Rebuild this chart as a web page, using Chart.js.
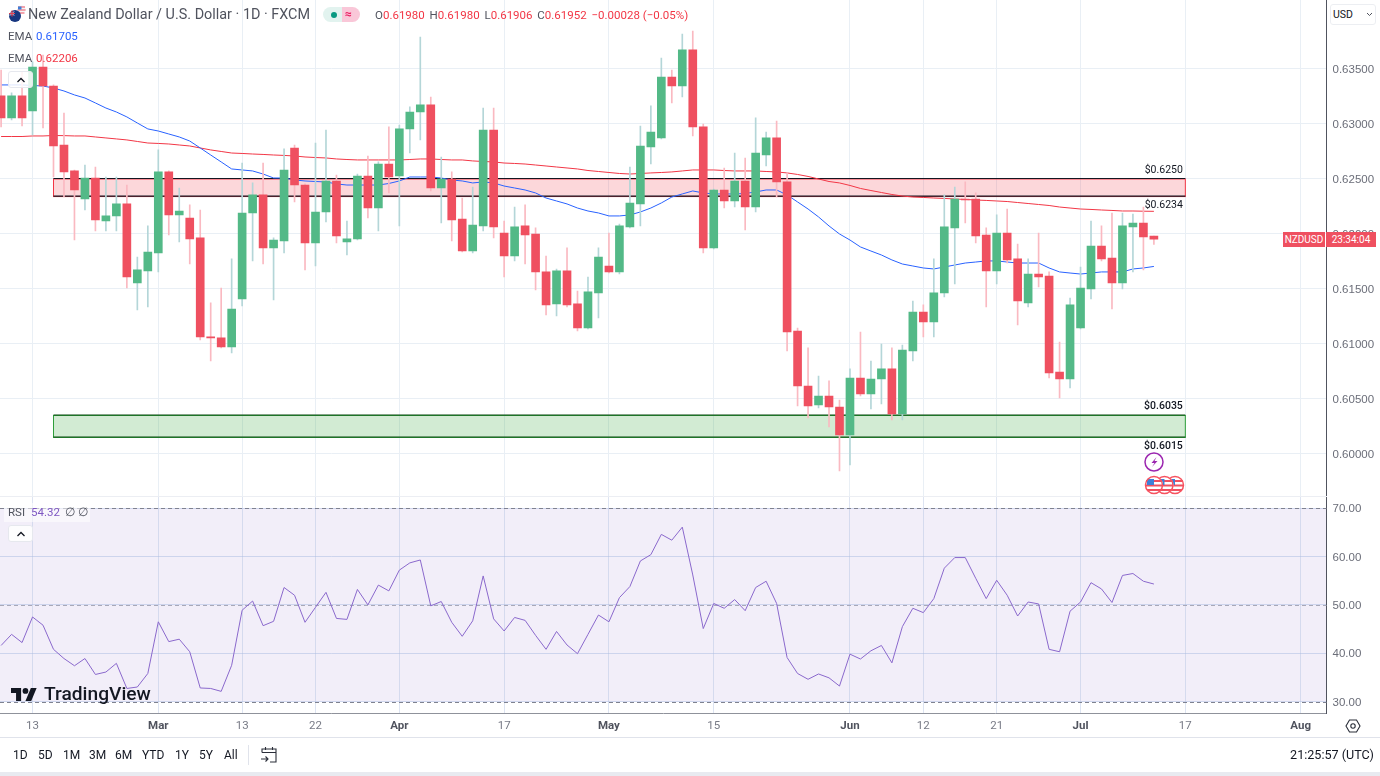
<!DOCTYPE html>
<html>
<head>
<meta charset="utf-8">
<title>NZDUSD</title>
<script src="https://cdn.jsdelivr.net/npm/chart.js@4/dist/chart.umd.min.js"></script>
<style>
  html, body { margin: 0; padding: 0; background: #fff; }
  body { position: relative; width: 1380px; height: 776px; overflow: hidden;
         font-family: Roboto, "Liberation Sans", sans-serif; color: #50535e; }
  canvas { position: absolute; left: 0; display: block; }
  #priceChart { top: 0; }
  #rsiChart { top: 497px; }
  .t { position: absolute; white-space: nowrap; line-height: 16px; }
  .line { position: absolute; }
  .btn { position: absolute; left: 8px; width: 25px; height: 17px; background: rgba(255,255,255,.85); border: 1px solid #e6e8ee;
         border-radius: 3px; box-sizing: border-box; }
  .btn svg { position: absolute; left: 7px; top: 4px; }
  .range { position: absolute; top: 747px; font-size: 12px; line-height: 16px; color: #131722; }
  svg.abs { position: absolute; overflow: visible; }
</style>
</head>
<body>
<canvas id="priceChart" width="1380" height="497"></canvas>
<canvas id="rsiChart" width="1380" height="240"></canvas>

<!-- header -->
<svg class="abs" style="left:8px;top:5px" width="18" height="18" viewBox="0 0 18 18">
  <circle cx="13.5" cy="4.5" r="4" fill="#f3f4f6"/><path d="M10 2h7M9.6 5h8M10.5 8h6" stroke="#ef5060" stroke-width="1.2"/>
  <path d="M10 1.5h3.5v3h-3.5z" fill="#3d80d8"/>
  <circle cx="7" cy="11" r="6" fill="#17367f"/><path d="M2 6.5l4 4M6 6.5l-4 4" stroke="#fff" stroke-width="1"/>
  <path d="M1 8.5h6M4 5.5v6" stroke="#e04050" stroke-width="1.2"/>
</svg>
<div class="t" style="left:28px;top:7px;font-size:14.4px;color:#50535e">New Zealand Dollar / U.S. Dollar · 1D · FXCM</div>
<div style="position:absolute;left:323px;top:7px;width:19px;height:15px;background:#e2f3ef;border-radius:8px 0 0 8px"></div>
<div style="position:absolute;left:342px;top:7px;width:18px;height:15px;background:#f9c7d8;border-radius:0 8px 8px 0"></div>
<div style="position:absolute;left:331px;top:12px;width:6px;height:6px;background:#089981;border-radius:50%"></div>
<div class="t" style="left:345px;top:6px;font-size:12px;font-weight:700;color:#e91e63">≈</div>
<div class="t" style="left:375px;top:7px;font-size:11.5px;color:#f23645"><span style="color:#50535e">O</span>0.61980 <span style="color:#50535e;margin-left:2px">H</span>0.61980 <span style="color:#50535e;margin-left:2px">L</span>0.61906 <span style="color:#50535e;margin-left:2px">C</span>0.61952 <span style="margin-left:2px">−0.00028 (−0.05%)</span></div>
<div class="t" style="left:8px;top:28px;font-size:11.5px">EMA</div>
<div class="t" style="left:36px;top:28px;font-size:11.5px;color:#2962ff">0.61705</div>
<div class="t" style="left:8px;top:50px;font-size:11.5px">EMA</div>
<div class="t" style="left:36px;top:50px;font-size:11.5px;color:#f23645">0.62206</div>
<div class="btn" style="top:71px"><svg width="10" height="8" viewBox="0 0 10 8"><path d="M1.5 6l3.5-3.5L8.5 6" fill="none" stroke="#131722" stroke-width="1.3"/></svg></div>

<!-- right side scale controls and price label -->
<div style="position:absolute;left:1330px;top:4px;width:46px;height:21px;border:1px solid #eceef2;border-radius:3px;box-sizing:border-box;background:#fff"></div>
<div class="t" style="left:1333px;top:7px;font-size:10.5px;color:#131722">USD</div>
<svg class="abs" style="left:1366px;top:12px" width="7" height="5" viewBox="0 0 7 5"><path d="M1 1l2.5 2.5L6 1" fill="none" stroke="#50535e" stroke-width="1"/></svg>
<div style="position:absolute;left:1283px;top:232px;width:42px;height:15px;background:#ef5060;color:#fff;font-size:10px;line-height:15px;text-align:center">NZDUSD</div>
<div style="position:absolute;left:1326px;top:232px;width:50px;height:15px;background:#ef5060;color:#fff;font-size:10px;line-height:15px;text-align:center">23:34:04</div>

<!-- events -->
<svg class="abs" style="left:1142px;top:450px" width="46" height="46" viewBox="0 0 46 46">
  <circle cx="12" cy="12" r="9" fill="#fff" stroke="#9c27b0" stroke-width="1.5"/>
  <path d="M14.5 7l-5 6h3l-2.5 4 5.500-6h-3z" fill="#9c27b0"/>
  <g transform="translate(33,35)"><circle r="9" fill="#fff"/><path d="M-8-4h16M-8.600 0.500h17.200M-7 5h14" stroke="#ef5060" stroke-width="2"/><path d="M-7-6h7v6h-7z" fill="#3d80d8"/><circle r="8.500" fill="none" stroke="#f7525f" stroke-width="1.500"/></g>
  <g transform="translate(22.500,35)"><circle r="9" fill="#fff"/><path d="M-8-4h16M-8.600 0.500h17.200M-7 5h14" stroke="#ef5060" stroke-width="2"/><path d="M-7-6h7v6h-7z" fill="#3d80d8"/><circle r="8.500" fill="none" stroke="#f7525f" stroke-width="1.500"/></g>
  <g transform="translate(12,35)"><circle r="9" fill="#fff"/><path d="M-8-4h16M-8.600 0.500h17.200M-7 5h14" stroke="#ef5060" stroke-width="2"/><path d="M-7-6h7v6h-7z" fill="#3d80d8"/><circle r="8.500" fill="none" stroke="#f7525f" stroke-width="1.500"/></g>
</svg>

<!-- rsi legend -->
<div style="position:absolute;left:4px;top:503px;width:86px;height:19px;background:rgba(255,255,255,.55)"></div>
<div class="t" style="left:8px;top:504px;font-size:11.5px">RSI</div>
<div class="t" style="left:31px;top:504px;font-size:11.5px;color:#7e57c2">54.32</div>
<div class="t" style="left:65px;top:504px;font-size:11.5px">∅</div>
<div class="t" style="left:78px;top:504px;font-size:11.5px">∅</div>
<div class="btn" style="top:525px"><svg width="10" height="8" viewBox="0 0 10 8"><path d="M1.5 6l3.5-3.5L8.5 6" fill="none" stroke="#131722" stroke-width="1.3"/></svg></div>

<!-- logo -->
<svg class="abs" style="left:11px;top:686px" width="26" height="17" viewBox="0 3 36 20">
  <path d="M14 22H7V11H0V4h14v18zM28 22h-8l7.5-18h8L28 22z" fill="#131722"/><circle cx="20" cy="8" r="4" fill="#131722"/>
</svg>
<div class="t" style="left:44px;top:684px;font-size:19.2px;font-weight:500;line-height:20px;color:#131722">TradingView</div>

<!-- lines and bottom bar -->
<div class="line" style="left:0;top:496px;width:1327px;height:1px;background:#eceef3"></div>
<div class="line" style="left:0;top:737px;width:1380px;height:1px;background:#e0e3eb"></div>
<div class="line" style="left:0;top:772px;width:1380px;height:4px;background:#e8eaf0"></div>
<div class="line" style="left:248px;top:745px;width:1px;height:20px;background:#e0e3eb"></div>
<svg class="abs" style="left:1345px;top:718px" width="16" height="16" viewBox="0 0 16 16">
  <path d="M4.5 2h7L15 8l-3.5 6h-7L1 8z" fill="none" stroke="#2a2e39" stroke-width="1.1"/><circle cx="8" cy="8" r="2.2" fill="none" stroke="#2a2e39" stroke-width="1.1"/>
</svg>
<svg class="abs" style="left:260px;top:746px" width="18" height="18" viewBox="0 0 18 18">
  <path d="M2 6.5V3h14v13h-6M2 6.5h14M5.5 1v3M12.500 1v3M1 13h7M5.500 10.500L8 13l-2.500 2.500" fill="none" stroke="#2a2e39" stroke-width="1.1"/>
</svg>
<div class="range" style="left:13px">1D</div>
<div class="range" style="left:38px">5D</div>
<div class="range" style="left:63px">1M</div>
<div class="range" style="left:89px">3M</div>
<div class="range" style="left:115px">6M</div>
<div class="range" style="left:142px">YTD</div>
<div class="range" style="left:175px">1Y</div>
<div class="range" style="left:199px">5Y</div>
<div class="range" style="left:224px">All</div>
<div class="t" style="right:6px;top:747px;font-size:12.6px;color:#131722">21:25:57 (UTC)</div>

<script>
// Candles. One entry per session, oldest first.
const opens = [
  0.63255,0.63055,0.63255,0.63118,0.63518,0.63345,0.62809,0.62573,0.62318,0.62509,
  0.62118,0.62164,0.62273,0.61555,0.61664,0.61827,0.62564,0.62173,0.62145,0.61964,
  0.61064,0.61055,0.60973,0.61409,0.62191,0.62355,0.61873,0.61936,0.62782,0.62445,
  0.61918,0.62200,0.62482,0.61927,0.61955,0.62527,0.62236,0.62636,0.62527,0.62955,
  0.63109,0.63173,0.62418,0.62500,0.62136,0.61845,0.62073,0.62945,0.62009,0.61800,
  0.62073,0.62000,0.61655,0.61364,0.61664,0.61364,0.61145,0.61464,0.61709,0.61655,
  0.62064,0.62273,0.62791,0.62873,0.63427,0.63345,0.63673,0.62973,0.61873,0.62400,
  0.62300,0.62482,0.62245,0.62718,0.62873,0.62473,0.61118,0.60618,0.60445,0.60527,
  0.60427,0.60173,0.60691,0.60545,0.60682,0.60773,0.60364,0.60936,0.61291,0.61200,
  0.61464,0.62055,0.62318,0.62318,0.61991,0.61664,0.62009,0.61773,0.61373,0.61636,
  0.61618,0.60745,0.60682,0.61145,0.61500,0.61891,0.61782,0.61555,0.62064,0.62100,
  0.61980
];
const highs = [
  0.63491,0.63282,0.63473,0.63564,0.63627,0.63355,0.63100,0.62582,0.62627,0.62609,
  0.62518,0.62518,0.62445,0.61791,0.62073,0.62764,0.62573,0.62418,0.62264,0.62218,
  0.61373,0.61509,0.61773,0.62645,0.62464,0.62645,0.61964,0.62773,0.62809,0.62455,
  0.62827,0.62945,0.62536,0.62118,0.62545,0.62709,0.62655,0.62973,0.62991,0.63155,
  0.63791,0.63245,0.62700,0.62564,0.62327,0.62427,0.63145,0.63145,0.62118,0.62245,
  0.62264,0.62055,0.61800,0.61682,0.61873,0.61482,0.61609,0.61873,0.62009,0.62091,
  0.62609,0.62982,0.63164,0.63600,0.63491,0.63818,0.63845,0.63000,0.62409,0.62600,
  0.62736,0.62691,0.63055,0.62927,0.63027,0.62555,0.61145,0.60964,0.60709,0.60664,
  0.60491,0.60773,0.61109,0.60845,0.61000,0.60964,0.60991,0.61391,0.61355,0.61773,
  0.62355,0.62427,0.62473,0.62373,0.62055,0.62173,0.62227,0.61909,0.61773,0.62009,
  0.61655,0.61018,0.61418,0.61700,0.62118,0.62073,0.62191,0.62191,0.62182,0.62245,
  0.61980
];
const lows = [
  0.62973,0.63036,0.62982,0.62900,0.62964,0.62518,0.62336,0.61945,0.62218,0.62027,
  0.62027,0.62027,0.61509,0.61309,0.61336,0.61655,0.61991,0.61927,0.61727,0.61036,
  0.60845,0.60964,0.60918,0.61345,0.61755,0.61727,0.61400,0.61827,0.62291,0.61673,
  0.61709,0.62109,0.61918,0.61809,0.61945,0.62145,0.62027,0.62373,0.62073,0.62736,
  0.62855,0.62391,0.62100,0.61936,0.61836,0.61827,0.62027,0.61964,0.61609,0.61755,
  0.61727,0.61491,0.61264,0.61255,0.61336,0.61118,0.61136,0.61236,0.61645,0.61636,
  0.62055,0.62073,0.62636,0.62864,0.63191,0.63245,0.62891,0.61827,0.61864,0.62236,
  0.62245,0.62036,0.62200,0.62618,0.62336,0.60936,0.60436,0.60327,0.60418,0.60245,
  0.59845,0.59900,0.60527,0.60409,0.60455,0.60309,0.60309,0.60845,0.61064,0.61064,
  0.61427,0.61545,0.62100,0.61918,0.61336,0.61545,0.61736,0.61173,0.61336,0.61518,
  0.60691,0.60509,0.60600,0.61136,0.61409,0.61755,0.61318,0.61500,0.61655,0.61673,
  0.61906
];
const closes = [
  0.63055,0.63255,0.63055,0.63518,0.63345,0.62800,0.62564,0.62400,0.62509,0.62127,
  0.62164,0.62273,0.61609,0.61673,0.61836,0.62564,0.62173,0.62209,0.61955,0.61064,
  0.61055,0.60973,0.61318,0.62191,0.62355,0.61873,0.61945,0.62582,0.62445,0.61918,
  0.62200,0.62482,0.61982,0.61955,0.62527,0.62236,0.62636,0.62518,0.62955,0.63109,
  0.63173,0.62418,0.62500,0.62127,0.61845,0.62082,0.62945,0.62064,0.61800,0.62064,
  0.61991,0.61655,0.61355,0.61664,0.61355,0.61145,0.61473,0.61791,0.61655,0.62073,
  0.62282,0.62800,0.62927,0.63427,0.63345,0.63673,0.62973,0.61873,0.62400,0.62300,
  0.62482,0.62245,0.62736,0.62873,0.62473,0.61109,0.60618,0.60436,0.60527,0.60427,
  0.60173,0.60691,0.60545,0.60682,0.60773,0.60364,0.60945,0.61291,0.61200,0.61464,
  0.62064,0.62318,0.62309,0.61982,0.61664,0.62009,0.61764,0.61391,0.61636,0.61609,
  0.60736,0.60682,0.61355,0.61509,0.61891,0.61773,0.61555,0.62073,0.62100,0.61973,
  0.61952
];
// Blue EMA
const emaFast = [
  0.63355,0.63355,0.63355,0.63350,0.63345,0.63327,0.63300,0.63264,0.63236,0.63191,
  0.63145,0.63109,0.63064,0.63009,0.62955,0.62936,0.62909,0.62882,0.62845,0.62782,
  0.62718,0.62655,0.62591,0.62582,0.62573,0.62545,0.62509,0.62509,0.62491,0.62482,
  0.62477,0.62473,0.62455,0.62445,0.62445,0.62445,0.62445,0.62459,0.62482,0.62518,
  0.62518,0.62518,0.62509,0.62491,0.62482,0.62464,0.62473,0.62464,0.62436,0.62418,
  0.62400,0.62373,0.62327,0.62300,0.62273,0.62236,0.62209,0.62191,0.62164,0.62164,
  0.62173,0.62200,0.62236,0.62282,0.62336,0.62364,0.62391,0.62373,0.62364,0.62364,
  0.62364,0.62368,0.62382,0.62400,0.62400,0.62355,0.62291,0.62227,0.62155,0.62073,
  0.62000,0.61945,0.61882,0.61845,0.61809,0.61764,0.61727,0.61709,0.61691,0.61682,
  0.61700,0.61718,0.61736,0.61745,0.61755,0.61755,0.61745,0.61736,0.61736,0.61736,
  0.61691,0.61655,0.61645,0.61636,0.61645,0.61655,0.61655,0.61655,0.61682,0.61691,
  0.61705
];
// Red EMA
const emaSlow = [
  0.62886,0.62886,0.62886,0.62891,0.62891,0.62895,0.62894,0.62891,0.62891,0.62882,
  0.62873,0.62864,0.62855,0.62841,0.62827,0.62823,0.62818,0.62809,0.62800,0.62782,
  0.62764,0.62750,0.62736,0.62732,0.62727,0.62723,0.62718,0.62714,0.62709,0.62700,
  0.62695,0.62691,0.62682,0.62677,0.62673,0.62673,0.62673,0.62673,0.62673,0.62677,
  0.62682,0.62682,0.62677,0.62673,0.62673,0.62664,0.62659,0.62655,0.62645,0.62641,
  0.62636,0.62627,0.62618,0.62609,0.62600,0.62591,0.62577,0.62568,0.62559,0.62550,
  0.62545,0.62550,0.62555,0.62559,0.62564,0.62573,0.62582,0.62582,0.62582,0.62577,
  0.62573,0.62573,0.62573,0.62568,0.62564,0.62555,0.62541,0.62523,0.62500,0.62477,
  0.62464,0.62441,0.62414,0.62395,0.62377,0.62359,0.62345,0.62336,0.62332,0.62327,
  0.62323,0.62318,0.62314,0.62309,0.62305,0.62300,0.62295,0.62286,0.62277,0.62268,
  0.62259,0.62245,0.62236,0.62227,0.62223,0.62218,0.62214,0.62209,0.62209,0.62207,
  0.62206
];
// RSI
const rsiValues = [
  41.6,43.9,42.2,47.5,45.8,40.8,38.9,37.4,38.9,35.6,
  36.1,37.9,32.7,33.0,35.8,46.5,42.4,42.9,40.3,32.8,
  32.7,32.1,37.5,48.9,50.8,45.7,46.6,53.6,52.0,46.4,
  49.5,52.6,47.2,47.0,53.2,50.0,54.1,52.9,57.2,58.7,
  59.3,49.8,50.7,46.4,43.5,46.7,56.0,47.1,44.6,47.4,
  46.8,43.7,40.8,44.5,41.7,39.9,43.9,47.9,46.5,51.5,
  53.8,59.1,60.4,64.6,63.4,66.1,56.2,45.1,50.3,49.3,
  51.1,48.8,53.6,54.9,50.3,39.1,35.8,34.6,35.7,34.9,
  33.2,39.8,38.8,40.5,41.6,38.0,45.5,49.3,48.4,51.3,
  57.6,59.8,59.8,55.5,51.3,55.1,52.0,47.7,50.6,50.2,
  40.8,40.3,48.7,50.6,54.6,53.3,50.5,56.1,56.5,54.9,
  54.32
];

const priceTicks = [0.635, 0.63, 0.625, 0.62, 0.615, 0.61, 0.605, 0.6];
const rsiTicks = [70, 60, 50, 40, 30];
const rsiDashed = [70, 50, 30];
const tickIndex = [3, 15, 23, 30, 38, 48, 58, 68, 81, 88, 95, 103, 113, 124];
const tickLabels = ["13", "Mar", "13", "22", "Apr", "17", "May", "15", "Jun", "12", "21", "Jul", "17", "Aug"];
const monthLabels = ["Mar", "Apr", "May", "Jun", "Jul", "Aug"];

// Support and resistance boxes
const zoneTops = [0.625, 0.6035];
const zoneBottoms = [0.6234, 0.6015];
const zoneFrom = 5;
const zoneTo = 113;

const RED = "#ef5060", GREEN = "#53b987";
const RED_WICK = "#fab9c1", GREEN_WICK = "#b4d6d8";
const GRID = "#e9eff5";
const AXIS_FONT = '"Liberation Sans Narrow", "Liberation Sans", sans-serif';

const isUp = closes.map((c, i) => c >= opens[i]);
const bodies = opens.map((o, i) => ({ x: i, y: [o, closes[i]] }));
const wicks = lows.map((l, i) => ({ x: i, y: [l, highs[i]] }));
const asPoints = arr => arr.map((v, i) => ({ x: i, y: v }));

// month ticks get the heavier label
const isMonthTick = ctx => !!ctx.tick && monthLabels.includes(tickLabels[tickIndex.indexOf(ctx.tick.value)]);

// both panes share this x scale
function xScale(showLabels) {
  return {
    type: "linear",
    offset: false,
    min: -0.105,
    max: 126.47,
    afterBuildTicks: axis => { axis.ticks = tickIndex.map(v => ({ value: v })); },
    afterFit: axis => {
      axis.height = showLabels ? 24 : 0;
      axis.paddingLeft = 0;
      axis.paddingRight = 0;
    },
    grid: { offset: false, color: showLabels ? "rgba(175,190,225,0.42)" : GRID, drawTicks: false },
    border: { display: showLabels, color: "#8f929b" },
    ticks: {
      display: showLabels,
      autoSkip: false,
      maxRotation: 0,
      padding: 6,
      callback: value => tickLabels[tickIndex.indexOf(value)],
      color: ctx => isMonthTick(ctx) ? "#50535e" : "#787b86",
      font: ctx => ({ family: "Roboto, sans-serif", size: 11.5, weight: isMonthTick(ctx) ? "700" : "400" })
    }
  };
}

function yScale(min, max, ticks, fmt, gridColor) {
  return {
    position: "right",
    min: min,
    max: max,
    afterBuildTicks: axis => { axis.ticks = ticks.map(v => ({ value: v })); },
    afterFit: axis => {
      axis.width = 53.5;
      axis.paddingTop = 0;
      axis.paddingBottom = 0;
    },
    grid: { color: gridColor, drawTicks: false },
    border: { display: true, color: "#50535e" },
    ticks: { padding: 6, labelOffset: 1, color: "#6a6d78", font: { family: AXIS_FONT, size: 11.5 }, callback: fmt }
  };
}

const zonePlugin = {
  id: "zones",
  beforeDatasetsDraw(chart) {
    const { ctx, scales: { x, y } } = chart;
    const left = x.getPixelForValue(zoneFrom), right = x.getPixelForValue(zoneTo);
    const looks = [
      { fill: "rgba(242,54,69,0.2)", edge: "#f23645", line: "#131722" },
      { fill: "rgba(76,175,80,0.25)", edge: "#2e9e3a", line: "#0f4a15" }
    ];
    ctx.save();
    zoneTops.forEach((top, i) => {
      const yTop = y.getPixelForValue(top), yBottom = y.getPixelForValue(zoneBottoms[i]);
      ctx.fillStyle = looks[i].fill;
      ctx.fillRect(left, yTop, right - left, yBottom - yTop);
      ctx.strokeStyle = looks[i].edge;
      ctx.lineWidth = 1;
      ctx.strokeRect(left, yTop, right - left, yBottom - yTop);
      ctx.strokeStyle = looks[i].line;
      ctx.lineWidth = 1.2;
      ctx.beginPath();
      ctx.moveTo(left, yTop - 0.5); ctx.lineTo(right, yTop - 0.5);
      ctx.moveTo(left, yBottom - 0.5); ctx.lineTo(right, yBottom - 0.5);
      ctx.stroke();
    });
    ctx.restore();
  },
  afterDatasetsDraw(chart) {
    const { ctx, scales: { x, y } } = chart;
    const right = x.getPixelForValue(zoneTo) - 2.5;
    ctx.save();
    ctx.textAlign = "right";
    ctx.textBaseline = "middle";
    ctx.fillStyle = "#131722";
    zoneTops.forEach((top, i) => {
      ctx.font = (i === 1 ? "500 " : "") + "10.5px Roboto, sans-serif";
      ctx.fillText("$" + top.toFixed(4), right, y.getPixelForValue(top) - 9);
      ctx.fillText("$" + zoneBottoms[i].toFixed(4), right, y.getPixelForValue(zoneBottoms[i]) + 9);
    });
    ctx.restore();
  }
};

const rsiBandPlugin = {
  id: "rsiBand",
  beforeDraw(chart) {
    const { ctx, chartArea: a, scales: { y } } = chart;
    const yTop = y.getPixelForValue(70), yBottom = y.getPixelForValue(30);
    ctx.save();
    ctx.fillStyle = "rgba(126,87,194,0.1)";
    ctx.fillRect(a.left, yTop, a.right - a.left, yBottom - yTop);
    ctx.restore();
  },
  beforeDatasetsDraw(chart) {
    const { ctx, chartArea: a, scales: { y } } = chart;
    ctx.save();
    ctx.lineWidth = 1;
    ctx.setLineDash([4, 3]);
    rsiDashed.forEach(v => {
      const py = Math.round(y.getPixelForValue(v)) + 0.5;
      // the middle level reads paler than the two outer ones
      ctx.strokeStyle = v === 50 ? "#a8a8b8" : "#7f8290";
      ctx.beginPath();
      ctx.moveTo(a.left, py);
      ctx.lineTo(a.right, py);
      ctx.stroke();
    });
    ctx.restore();
  }
};

Chart.defaults.animation = false;
Chart.defaults.responsive = false;
Chart.defaults.maintainAspectRatio = false;
Chart.defaults.plugins.legend.display = false;
Chart.defaults.plugins.tooltip.enabled = false;

new Chart(document.getElementById("priceChart"), {
  type: "bar",
  plugins: [zonePlugin],
  data: {
    datasets: [
      { type: "bar", order: 1, data: bodies, barThickness: 8, grouped: false,
        backgroundColor: isUp.map(u => u ? GREEN : RED) },
      { type: "bar", order: 2, data: wicks, barThickness: 1, grouped: false,
        backgroundColor: isUp.map(u => u ? GREEN_WICK : RED_WICK) },
      { type: "line", order: 3, data: asPoints(emaFast), borderColor: "#2962ff", borderWidth: 1, pointRadius: 0, tension: 0 },
      { type: "line", order: 4, data: asPoints(emaSlow), borderColor: "#f23645", borderWidth: 1, pointRadius: 0, tension: 0 }
    ]
  },
  options: {
    scales: {
      x: xScale(false),
      y: yScale(0.59609, 0.64127, priceTicks, v => v.toFixed(5), GRID)
    }
  }
});

new Chart(document.getElementById("rsiChart"), {
  type: "line",
  plugins: [rsiBandPlugin],
  data: {
    datasets: [
      { data: asPoints(rsiValues), borderColor: "#8a68cc", borderWidth: 1, pointRadius: 0, tension: 0 }
    ]
  },
  options: {
    scales: {
      x: xScale(true),
      y: yScale(27.62, 72.34, rsiTicks, v => v.toFixed(2), "rgba(175,190,225,0.55)")
    }
  }
});
</script>
</body>
</html>
